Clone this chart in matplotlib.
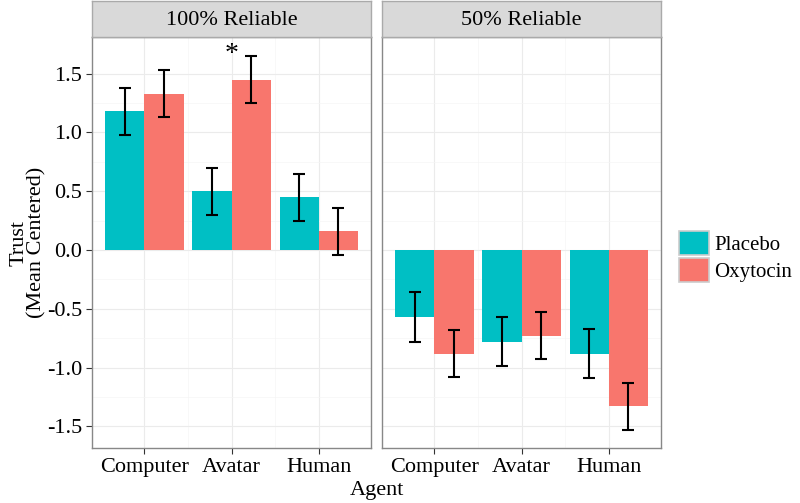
import numpy as np
import matplotlib.pyplot as plt
from matplotlib.patches import Patch

plt.rcParams['font.family'] = ['Liberation Serif', 'DejaVu Serif']

# data
agents = ["Computer", "Avatar", "Human"]
panels = ["100% Reliable", "50% Reliable"]
groups = ["Placebo", "Oxytocin"]
colors = ["#00BFC4", "#F8766D"]

placebo_100 = [1.18, 0.50, 0.45]
oxytocin_100 = [1.33, 1.45, 0.16]
placebo_50 = [-0.57, -0.78, -0.88]
oxytocin_50 = [-0.88, -0.73, -1.33]

placebo_100_se = [0.20, 0.20, 0.20]
oxytocin_100_se = [0.20, 0.20, 0.20]
placebo_50_se = [0.21, 0.21, 0.21]
oxytocin_50_se = [0.20, 0.20, 0.20]

values = [[placebo_100, oxytocin_100], [placebo_50, oxytocin_50]]
errors = [[placebo_100_se, oxytocin_100_se], [placebo_50_se, oxytocin_50_se]]

fs = 16

fig = plt.figure(figsize=(8, 5.03), dpi=100)

left0 = 0.115
pw = 0.349
gap = 0.0135
bottom = 0.109
ph = 0.817
sh = 0.072

x = np.arange(1, len(agents) + 1)
w = 0.45
axes = []
for p in range(2):
    l = left0 + p * (pw + gap)
    ax = fig.add_axes([l, bottom, pw, ph])
    axes.append(ax)
    for g in range(2):
        xs = x - w / 2 + g * w
        ax.bar(xs, values[p][g], width=w, color=colors[g], zorder=2)
        ax.errorbar(xs, values[p][g], yerr=errors[p][g], fmt='none',
                    ecolor='black', elinewidth=1.5, capsize=4, capthick=1.5, zorder=3)
    ax.set_xlim(0.4, 3.6)
    ax.set_ylim(-1.685, 1.81)
    ax.set_xticks(x)
    ax.set_xticklabels(agents)
    ax.set_yticks([-1.5, -1.0, -0.5, 0.0, 0.5, 1.0, 1.5])
    ax.set_yticks([-1.25, -0.75, -0.25, 0.25, 0.75, 1.25], minor=True)
    ax.set_xticks([1.5, 2.5], minor=True)
    ax.grid(True, which='major', color='#EBEBEB', linewidth=0.8, zorder=0)
    ax.grid(True, which='minor', color='#F5F5F5', linewidth=0.5, zorder=0)
    ax.tick_params(which='minor', length=0)
    ax.tick_params(which='major', length=4, color='#333333', labelsize=fs, pad=3)
    ax.set_axisbelow(True)
    for s in ax.spines.values():
        s.set_color('#888888')
        s.set_linewidth(1.0)
    if p == 0:
        ax.set_yticklabels(["-1.5", "-1.0", "-0.5", "0.0", "0.5", "1.0", "1.5"])
    else:
        ax.tick_params(axis='y', length=0, labelleft=False)

    # strip header
    sax = fig.add_axes([l, bottom + ph, pw, sh])
    sax.set_facecolor('#D9D9D9')
    sax.set_xticks([])
    sax.set_yticks([])
    for s in sax.spines.values():
        s.set_color('#AAAAAA')
        s.set_linewidth(1.0)
    sax.text(0.5, 0.45, panels[p], ha='center', va='center', fontsize=fs,
             transform=sax.transAxes)

# significance marker
axes[0].text(2, 1.66, "*", ha='center', va='center', fontsize=20, zorder=5)

fig.text(0.035, bottom + ph / 2, "Trust\n(Mean Centered)", rotation=90,
         ha='center', va='center', fontsize=fs, linespacing=0.95)
fig.text(left0 + pw + gap / 2, 0.005, "Agent", ha='center', va='bottom', fontsize=fs)

handles = [Patch(facecolor=c, edgecolor='#CCCCCC', linewidth=1.2) for c in colors]
fig.legend(handles, groups, loc='center left', bbox_to_anchor=(0.849, 0.49),
           frameon=False, fontsize=15, handlelength=1.45, handleheight=1.45,
           handletextpad=0.25, labelspacing=0.1, borderaxespad=0, borderpad=0)

fig.savefig("out.png", dpi=100)
